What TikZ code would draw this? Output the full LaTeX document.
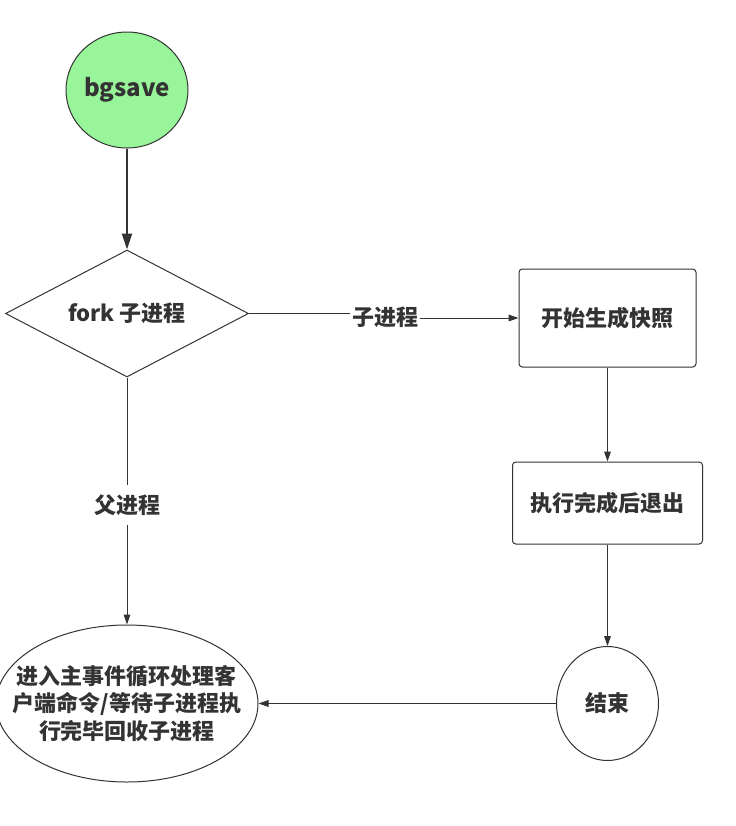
\documentclass[tikz,border=0pt]{standalone}
\usepackage{fontspec}
\setmainfont{Noto Sans CJK SC}
\usetikzlibrary{shapes.geometric,arrows.meta}
\definecolor{inkgray}{HTML}{333333}
\definecolor{startgreen}{HTML}{99F599}
\tikzset{
  flowbox/.style={draw=inkgray,line width=0.75pt,rounded corners=2.5pt,inner sep=0pt},
  flowround/.style={ellipse,draw=inkgray,line width=0.75pt,inner sep=0pt},
  flowarrow/.style={draw=inkgray,line width=0.75pt,-{Triangle[length=7.5pt,width=5pt]}},
  flowline/.style={draw=inkgray,line width=0.75pt},
}
\begin{document}
\begin{tikzpicture}[x=0.75pt,y=-0.75pt,font=\bfseries\fontsize{16.5}{20.6}\selectfont,text=inkgray]
    \useasboundingbox (0,0) rectangle (736,826);
    % left column
    \node[flowround,fill=startgreen,minimum width=91.5pt,minimum height=87pt,font=\bfseries\fontsize{18}{20}\selectfont] (start) at (127,90) {bgsave};
    \node[diamond,draw=inkgray,line width=0.75pt,inner sep=0pt,shape aspect=2,minimum width=182.25pt,minimum height=95.25pt] (fork) at (127,313.5) {fork 子进程};
    \node[flowround,minimum width=196.5pt,minimum height=117.75pt,
          label={[align=center,font=\bfseries\fontsize{16.5}{20.6}\selectfont]center:进入主事件循环处理客\\户端命令/等待子进程执\\行完毕回收子进程}] (main) at (127,703.5) {};
    % right column
    \node[flowbox,minimum width=132.75pt,minimum height=73.5pt] (snap) at (607.5,318) {开始生成快照};
    \node[flowbox,minimum width=142.5pt,minimum height=61.5pt] (quit) at (607.5,503) {执行完成后退出};
    \node[flowround,minimum width=76.5pt,minimum height=85.5pt] (finish) at (607.5,703.5) {结束};
    % edge labels
    \node[inner sep=1pt] (childlbl) at (385,317) {子进程};
    \node[inner sep=7pt] (parentlbl) at (127,505) {父进程};
    % connectors
    \draw[inkgray,line width=1.7pt,-{Triangle[length=12pt,width=7.5pt]}] (start.south) -- (fork.north);
    \draw[flowline] (fork.east) -- (childlbl.west |- fork.east);
    \draw[flowarrow] (childlbl.east |- snap.west) -- (snap.west);
    \draw[flowline] (fork.south) -- (parentlbl.north);
    \draw[flowarrow] (parentlbl.south) -- (main.north);
    \draw[flowarrow] (snap.south) -- (quit.north);
    \draw[flowarrow] (quit.south) -- (finish.north);
    \draw[flowarrow] (finish.west) -- (main.east);
\end{tikzpicture}
\end{document}
